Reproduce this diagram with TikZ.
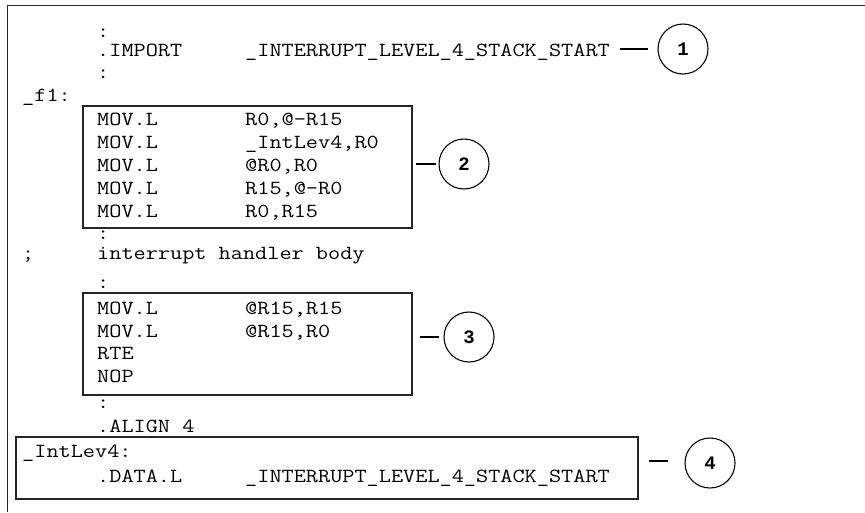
\documentclass[tikz,border=0pt]{standalone}
\usepackage{fontspec}
\newfontfamily\digitfont{Liberation Mono}
\newcommand\cx[1]{\scalebox{1.18}[1]{#1}}
\begin{document}
\begin{tikzpicture}[x=1pt,y=-1pt,
  code/.style={anchor=base west,inner sep=0pt,font=\ttfamily\fontsize{20}{22}\selectfont},
  frame/.style={line width=1.4pt,draw=black!85},
  codebox/.style={draw=black!85,line width=1.4pt,rectangle,inner sep=0pt},
  callout/.style={circle,draw,line width=1.1pt,minimum size=50pt,inner sep=0pt,font=\digitfont\bfseries\fontsize{19}{20}\selectfont},
  lead/.style={line width=1.2pt}]
\useasboundingbox (0,0) rectangle (865,512);
% outer frame (open at right and bottom)
\coordinate (ftl) at (7.5,5.5);
\coordinate (ftr) at (865,5.5);
\coordinate (fbl) at (7.5,512);
\draw[frame] (ftr) -- (ftl) -- (fbl);
% boxes
\node[codebox,minimum width=329pt,minimum height=122pt] (box2) at (247.5,167) {};
\node[codebox,minimum width=329pt,minimum height=102pt] (box3) at (247.5,344) {};
\node[codebox,minimum width=622pt,minimum height=62pt] (box4) at (327,468) {};
% code lines
\node[code] (c1) at (97,37) {\cx{:}};
\node[code] (imp) at (97,56.5) {\cx{.IMPORT}};
\node[code] (impa) at (245,56.5) {\cx{\_INTERRUPT\_LEVEL\_4\_STACK\_START}};
\node[code] (c2) at (97,78) {\cx{:}};
\node[code] (f1) at (22,101) {\cx{\_f1:}};
\node[code] (m1) at (97,125.5) {\cx{MOV.L}};
\node[code] (m1a) at (245,125.5) {\cx{R0,@-R15}};
\node[code] (m2) at (97,148.5) {\cx{MOV.L}};
\node[code] (m2a) at (245,148.5) {\cx{\_IntLev4,R0}};
\node[code] (m3) at (97,171.5) {\cx{MOV.L}};
\node[code] (m3a) at (245,171.5) {\cx{@R0,R0}};
\node[code] (m4) at (97,194) {\cx{MOV.L}};
\node[code] (m4a) at (245,194) {\cx{R15,@-R0}};
\node[code] (m5) at (97,217) {\cx{MOV.L}};
\node[code] (m5a) at (245,217) {\cx{R0,R15}};
\node[code] (c3) at (97,239.5) {\cx{:}};
\node[code] (semi) at (22,259) {\cx{;}};
\node[code] (body) at (97,259) {\cx{interrupt handler body}};
\node[code] (c4) at (97,288) {\cx{:}};
\node[code] (n1) at (97,314) {\cx{MOV.L}};
\node[code] (n1a) at (245,314) {\cx{@R15,R15}};
\node[code] (n2) at (97,337) {\cx{MOV.L}};
\node[code] (n2a) at (245,337) {\cx{@R15,R0}};
\node[code] (n3) at (97,359.5) {\cx{RTE}};
\node[code] (n4) at (97,382) {\cx{NOP}};
\node[code] (c5) at (97,408) {\cx{:}};
\node[code] (align) at (97,432) {\cx{.ALIGN 4}};
\node[code] (lab) at (22,457) {\cx{\_IntLev4:}};
\node[code] (data) at (97,482) {\cx{.DATA.L}};
\node[code] (dataa) at (245,482) {\cx{\_INTERRUPT\_LEVEL\_4\_STACK\_START}};
% callouts
\node[callout] (k1) at (683,49) {1};
\node[callout] (k2) at (464,164) {2};
\node[callout] (k3) at (469,337) {3};
\node[callout] (k4) at (710,463) {4};
\draw[lead] ([xshift=10pt]impa.east |- k1.west) -- ([xshift=-9pt]k1.west);
\draw[lead] ([xshift=3pt]box2.east |- k2.west) -- ([xshift=-2pt]k2.west);
\draw[lead] ([xshift=7pt]box3.east |- k3.west) -- ([xshift=-4pt]k3.west);
\draw[lead] ([xshift=10pt]box4.east |- 0,461) -- ([xshift=-16pt]k4.west |- 0,461);
\end{tikzpicture}
\end{document}
